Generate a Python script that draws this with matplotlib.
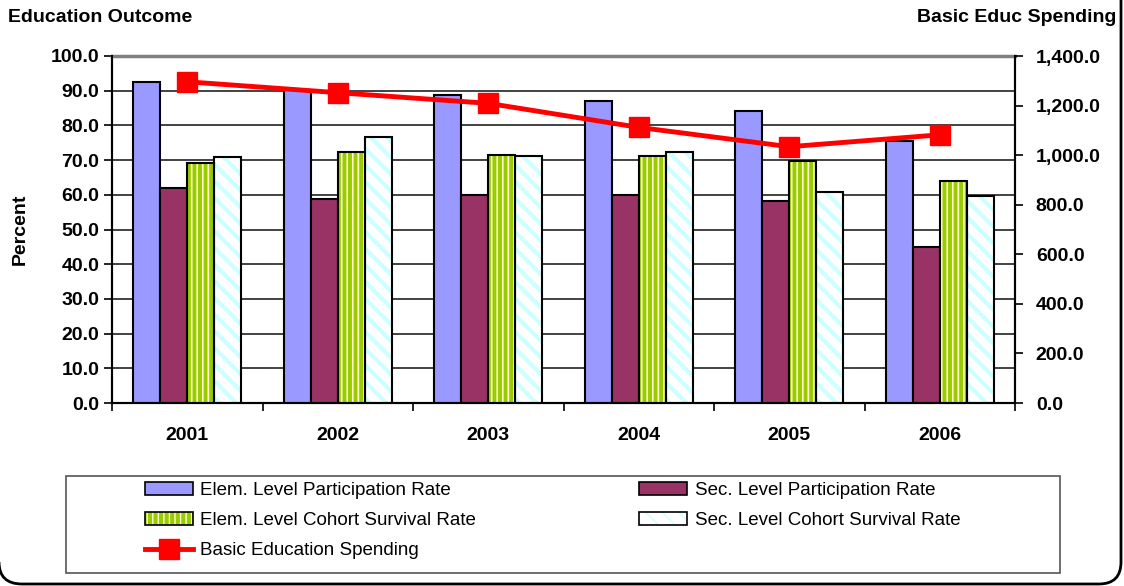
import numpy as np
import matplotlib
matplotlib.use('Agg')
import matplotlib.pyplot as plt
from matplotlib.patches import Patch, PathPatch, Rectangle
from matplotlib.path import Path
from matplotlib.lines import Line2D
from matplotlib.ticker import FuncFormatter, MultipleLocator

plt.rcParams['font.family'] = ['Liberation Sans', 'DejaVu Sans']

years = ['2001', '2002', '2003', '2004', '2005', '2006']
elem_participation = [92.4, 90.3, 88.8, 87.1, 84.1, 75.6]
sec_participation = [62.0, 58.9, 59.9, 59.9, 58.2, 45.0]
elem_cohort = [69.3, 72.4, 71.4, 71.3, 69.8, 64.1]
sec_cohort = [70.8, 76.7, 71.3, 72.4, 60.8, 59.7]
spending = [1296, 1252, 1209, 1112, 1034, 1082]

labels = ['Elem. Level Participation Rate', 'Sec. Level Participation Rate',
          'Elem. Level Cohort Survival Rate', 'Sec. Level Cohort Survival Rate',
          'Basic Education Spending']

fig = plt.figure(figsize=(11.24, 5.86), dpi=100)
ax = fig.add_axes([112/1124, 1-403/586, (1015-112)/1124, (403-56)/586])
ax2 = ax.twinx()
ax.set_zorder(1)
ax2.set_zorder(2)
ax2.patch.set_visible(False)

x = np.arange(len(years))
w = 0.18

# plain bars
ax.bar(x - 1.5*w, elem_participation, w, color='#9999FF', edgecolor='black', linewidth=1.5, zorder=3)
ax.bar(x - 0.5*w, sec_participation, w, color='#993366', edgecolor='black', linewidth=1.5, zorder=3)

# hatched bars: fill + hatch first, outline on top
with plt.rc_context({'hatch.linewidth': 1.2}):
    ax.bar(x + 0.5*w, elem_cohort, w, color='#99CC00', edgecolor='#FFFFCC', hatch='|||', linewidth=0, zorder=3)
with plt.rc_context({'hatch.linewidth': 3.0}):
    ax.bar(x + 1.5*w, sec_cohort, w, color='white', edgecolor='#CCFFFF', hatch='\\\\', linewidth=0, zorder=3)
ax.bar(x + 0.5*w, elem_cohort, w, fill=False, edgecolor='black', linewidth=1.5, zorder=4)
ax.bar(x + 1.5*w, sec_cohort, w, fill=False, edgecolor='black', linewidth=1.5, zorder=4)

ax2.plot(x, spending, color='#FF0000', linewidth=3.5, marker='s', markersize=15, zorder=5)

ax.set_xlim(-0.5, 5.5)
ax.set_ylim(0, 100)
ax2.set_ylim(0, 1400)

ax.yaxis.set_major_locator(MultipleLocator(10))
ax.yaxis.set_major_formatter(FuncFormatter(lambda v, p: f'{v:.1f}'))
ax2.yaxis.set_major_locator(MultipleLocator(200))
ax2.yaxis.set_major_formatter(FuncFormatter(lambda v, p: f'{v:,.1f}'))

ax.grid(axis='y', color='#222222', linewidth=1.2, zorder=0)
ax.set_axisbelow(True)

ax.set_xticks(np.arange(-0.5, 6, 1))
ax.set_xticklabels([])
ax.set_xticks(x, minor=True)
ax.set_xticklabels(years, minor=True)
ax.tick_params(axis='x', which='minor', length=0, pad=17)
ax.tick_params(axis='x', which='major', direction='out', length=6, width=1.2)
ax.tick_params(axis='y', direction='out', length=6, width=1.2, pad=3)
ax2.tick_params(axis='y', direction='out', length=6, width=1.2, pad=9)

for a in (ax, ax2):
    for lbl in a.get_yticklabels() + a.get_xticklabels(minor=True):
        lbl.set_fontweight('bold')
        lbl.set_fontsize(14)

for s in ('left', 'right', 'bottom'):
    ax.spines[s].set_color('black')
    ax.spines[s].set_linewidth(1.5)
    ax2.spines[s].set_linewidth(1.5)
ax.spines['top'].set_color('#808080')
ax.spines['top'].set_linewidth(2.5)
ax2.spines['top'].set_visible(False)

ax.set_ylabel('Percent', fontsize=14, fontweight='bold', labelpad=16)

fig.text(8/1124, 1-17/586, 'Education Outcome', fontsize=14, fontweight='bold', ha='left', va='center')
fig.text(1116/1124, 1-17/586, 'Basic Educ Spending', fontsize=14, fontweight='bold', ha='right', va='center')

# legend frame
fig.patches.append(Rectangle((66/1124, 1-573/586), (1060-66)/1124, (573-476)/586,
                             transform=fig.transFigure, fill=False, edgecolor='#555555', linewidth=1.2))

h_elem = Patch(facecolor='#9999FF', edgecolor='black', linewidth=1.2)
h_sec = Patch(facecolor='#993366', edgecolor='black', linewidth=1.2)
with plt.rc_context({'hatch.linewidth': 1.2}):
    h_ec = (Patch(facecolor='#99CC00', edgecolor='#FFFFCC', hatch='|||', linewidth=0),
            Patch(fill=False, edgecolor='black', linewidth=1.2))
with plt.rc_context({'hatch.linewidth': 3.0}):
    h_sc = (Patch(facecolor='white', edgecolor='#CCFFFF', hatch='\\\\', linewidth=0),
            Patch(fill=False, edgecolor='black', linewidth=1.2))
h_sp = Line2D([], [], color='#FF0000', linewidth=3.5, marker='s', markersize=15)

leg = fig.legend([h_elem, h_ec, h_sp, h_sec, h_sc],
                 [labels[0], labels[2], labels[4], labels[1], labels[3]],
                 ncol=2, loc='upper left', bbox_to_anchor=(128/1124, 1-465/586),
                 frameon=False, fontsize=13.5, handlelength=2.56, handleheight=0.7,
                 handletextpad=0.4, labelspacing=0.69, columnspacing=8.7)

# rounded outer frame, only bottom and right edges are inside the canvas
H = 586
verts = [(-1, H - 562), (-1, H - 584), (22, H - 584),
         (1099, H - 584),
         (1121, H - 584), (1121, H - 562),
         (1121, H + 10)]
codes = [Path.MOVETO, Path.CURVE3, Path.CURVE3, Path.LINETO, Path.CURVE3, Path.CURVE3, Path.LINETO]
fig.patches.append(PathPatch(Path(verts, codes), transform=None, fill=False,
                             edgecolor='black', linewidth=2))

fig.savefig('out.png', dpi=100)
